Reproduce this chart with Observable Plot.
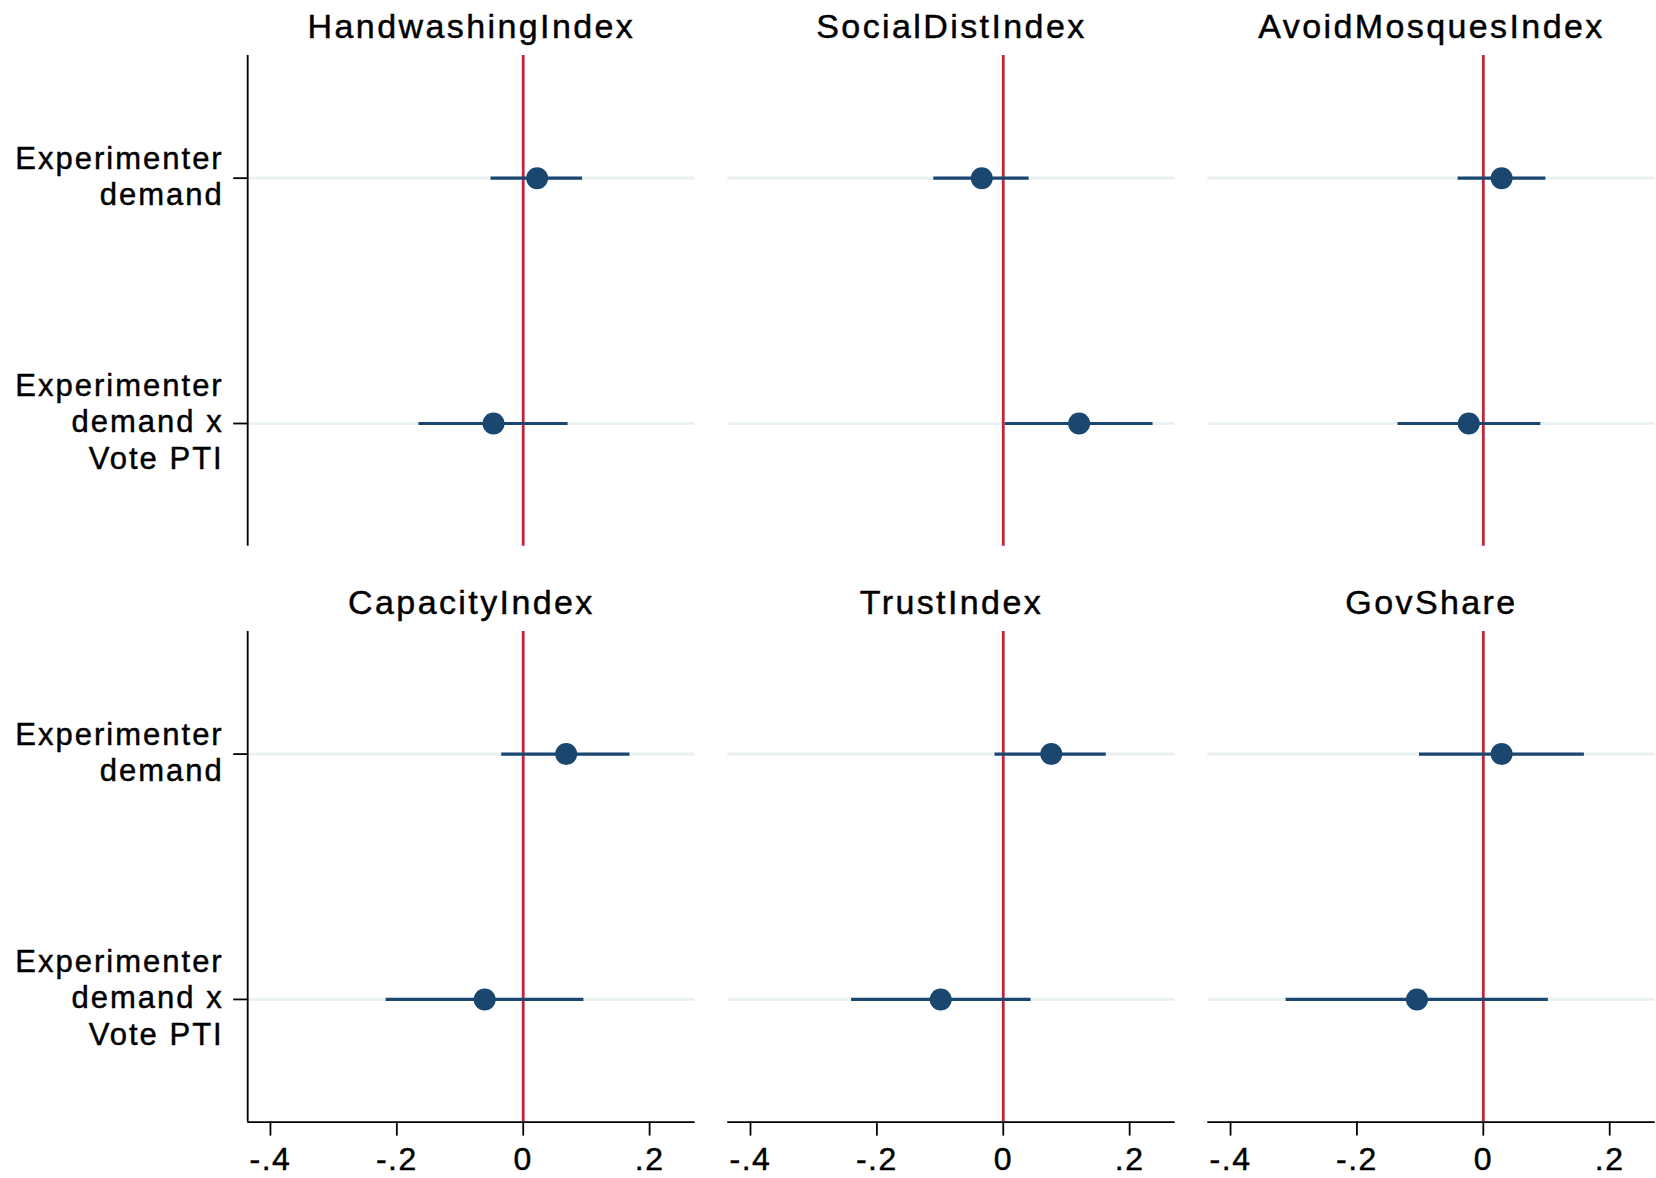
<!DOCTYPE html>
<html>
<head>
<meta charset="utf-8">
<script src="https://cdn.jsdelivr.net/npm/d3@7"></script>
<script src="https://cdn.jsdelivr.net/npm/@observablehq/plot@0.6"></script>
<style>
  html, body { margin: 0; padding: 0; background: #ffffff; }
  #chart svg { display: block; }
  #chart svg text { stroke: #000000; stroke-width: 0.45px; }
  g[aria-label="text"] { letter-spacing: 2.4px; }
  g[aria-label="y-axis tick label"] { letter-spacing: 2px; }
  g[aria-label="x-axis tick label"] { letter-spacing: 1.5px; }
</style>
</head>
<body>
<div id="chart"></div>
<script>
// ---- data ----
const panels = ["HandwashingIndex", "SocialDistIndex", "AvoidMosquesIndex", "CapacityIndex", "TrustIndex", "GovShare"];
const rowLabels = ["Experimenter\ndemand", "Experimenter\ndemand x\nVote PTI"];

// coefficient "Experimenter demand"
const est0 = [0.022, -0.034, 0.029, 0.068, 0.076, 0.029];
const lo0  = [-0.051, -0.110, -0.040, -0.034, -0.013, -0.101];
const hi0  = [0.094, 0.041, 0.099, 0.169, 0.163, 0.160];
// coefficient "Experimenter demand x Vote PTI"
const est1 = [-0.047, 0.120, -0.023, -0.061, -0.099, -0.105];
const lo1  = [-0.165, 0.003, -0.135, -0.217, -0.240, -0.312];
const hi1  = [0.071, 0.237, 0.091, 0.096, 0.044, 0.103];

const xDomain = [-0.436, 0.272];
const xTicks = [-0.4, -0.2, 0, 0.2];
const xTickLabels = ["-.4", "-.2", "0", ".2"];
const yDomain = [-0.5, 1.5];
const yTicks = [0, 1];

// ---- tables built from the arrays ----
const panelTable = panels.map((name, i) => ({name, col: i % 3, frow: Math.floor(i / 3)}));
const est = [est0, est1], lo = [lo0, lo1], hi = [hi0, hi1];
const coefs = panelTable.flatMap((p, i) => [0, 1].map(r => ({
  col: p.col, frow: p.frow, row: r, est: est[r][i], lo: lo[r][i], hi: hi[r][i]
})));

const navy = "#1a476f";
const red = "#c0263a";
const grid = "#eaf2f3";

const chart = Plot.plot({
  width: 1656,
  height: 1178,
  marginLeft: 247.2,
  marginRight: 1.3,
  marginTop: 55,
  marginBottom: 56.4,
  style: {fontFamily: "'Liberation Sans', Arial, Helvetica, sans-serif", background: "#ffffff", color: "#000000"},
  x: {domain: xDomain},
  y: {domain: yDomain, reverse: true},
  fx: {domain: [0, 1, 2], paddingInner: 0.068, paddingOuter: 0, round: false, axis: null},
  fy: {domain: [0, 1], paddingInner: 0.148, paddingOuter: 0, round: false, axis: null},
  marks: [
    // light horizontal guide at each coefficient row
    Plot.ruleY(coefs, {y: "row", fx: "col", fy: "frow", stroke: grid, strokeWidth: 3.2}),
    // zero reference line
    Plot.ruleX(panelTable, {x: 0, fx: "col", fy: "frow", stroke: red, strokeWidth: 2.8}),
    // axis lines
    Plot.ruleX(panelTable.filter(d => d.col === 0), {x: xDomain[0], fx: "col", fy: "frow", stroke: "#000", strokeWidth: 1.8}),
    Plot.ruleY(panelTable.filter(d => d.frow === 1), {y: yDomain[1], fx: "col", fy: "frow", stroke: "#000", strokeWidth: 1.8}),
    // confidence intervals
    Plot.ruleY(coefs, {y: "row", x1: "lo", x2: "hi", fx: "col", fy: "frow", stroke: navy, strokeWidth: 3.2}),
    // point estimates
    Plot.dot(coefs, {x: "est", y: "row", fx: "col", fy: "frow", r: 11, fill: navy, stroke: "none"}),
    // panel titles
    Plot.text(panelTable, {
      text: "name", fx: "col", fy: "frow", frameAnchor: "top", dy: -28.5,
      lineAnchor: "middle", fontSize: 34, fill: "#000"
    }),
    Plot.axisX({
      ticks: xTicks, tickFormat: (d) => xTickLabels[xTicks.indexOf(d)],
      tickSize: 14, tickPadding: 11, fontSize: 32, strokeWidth: 1.8, label: null
    }),
    // y tick marks (no labels)
    Plot.axisY({
      ticks: yTicks, tickFormat: () => "", tickSize: 14, strokeWidth: 1.8, label: null
    }),
    // y tick labels (multi-line)
    Plot.axisY({
      ticks: yTicks, tickFormat: d => rowLabels[d],
      tickSize: 0, tickPadding: 24, fontSize: 31, lineHeight: 1.18, dy: -3, label: null
    })
  ]
});

document.getElementById("chart").appendChild(chart);
</script>
</body>
</html>
